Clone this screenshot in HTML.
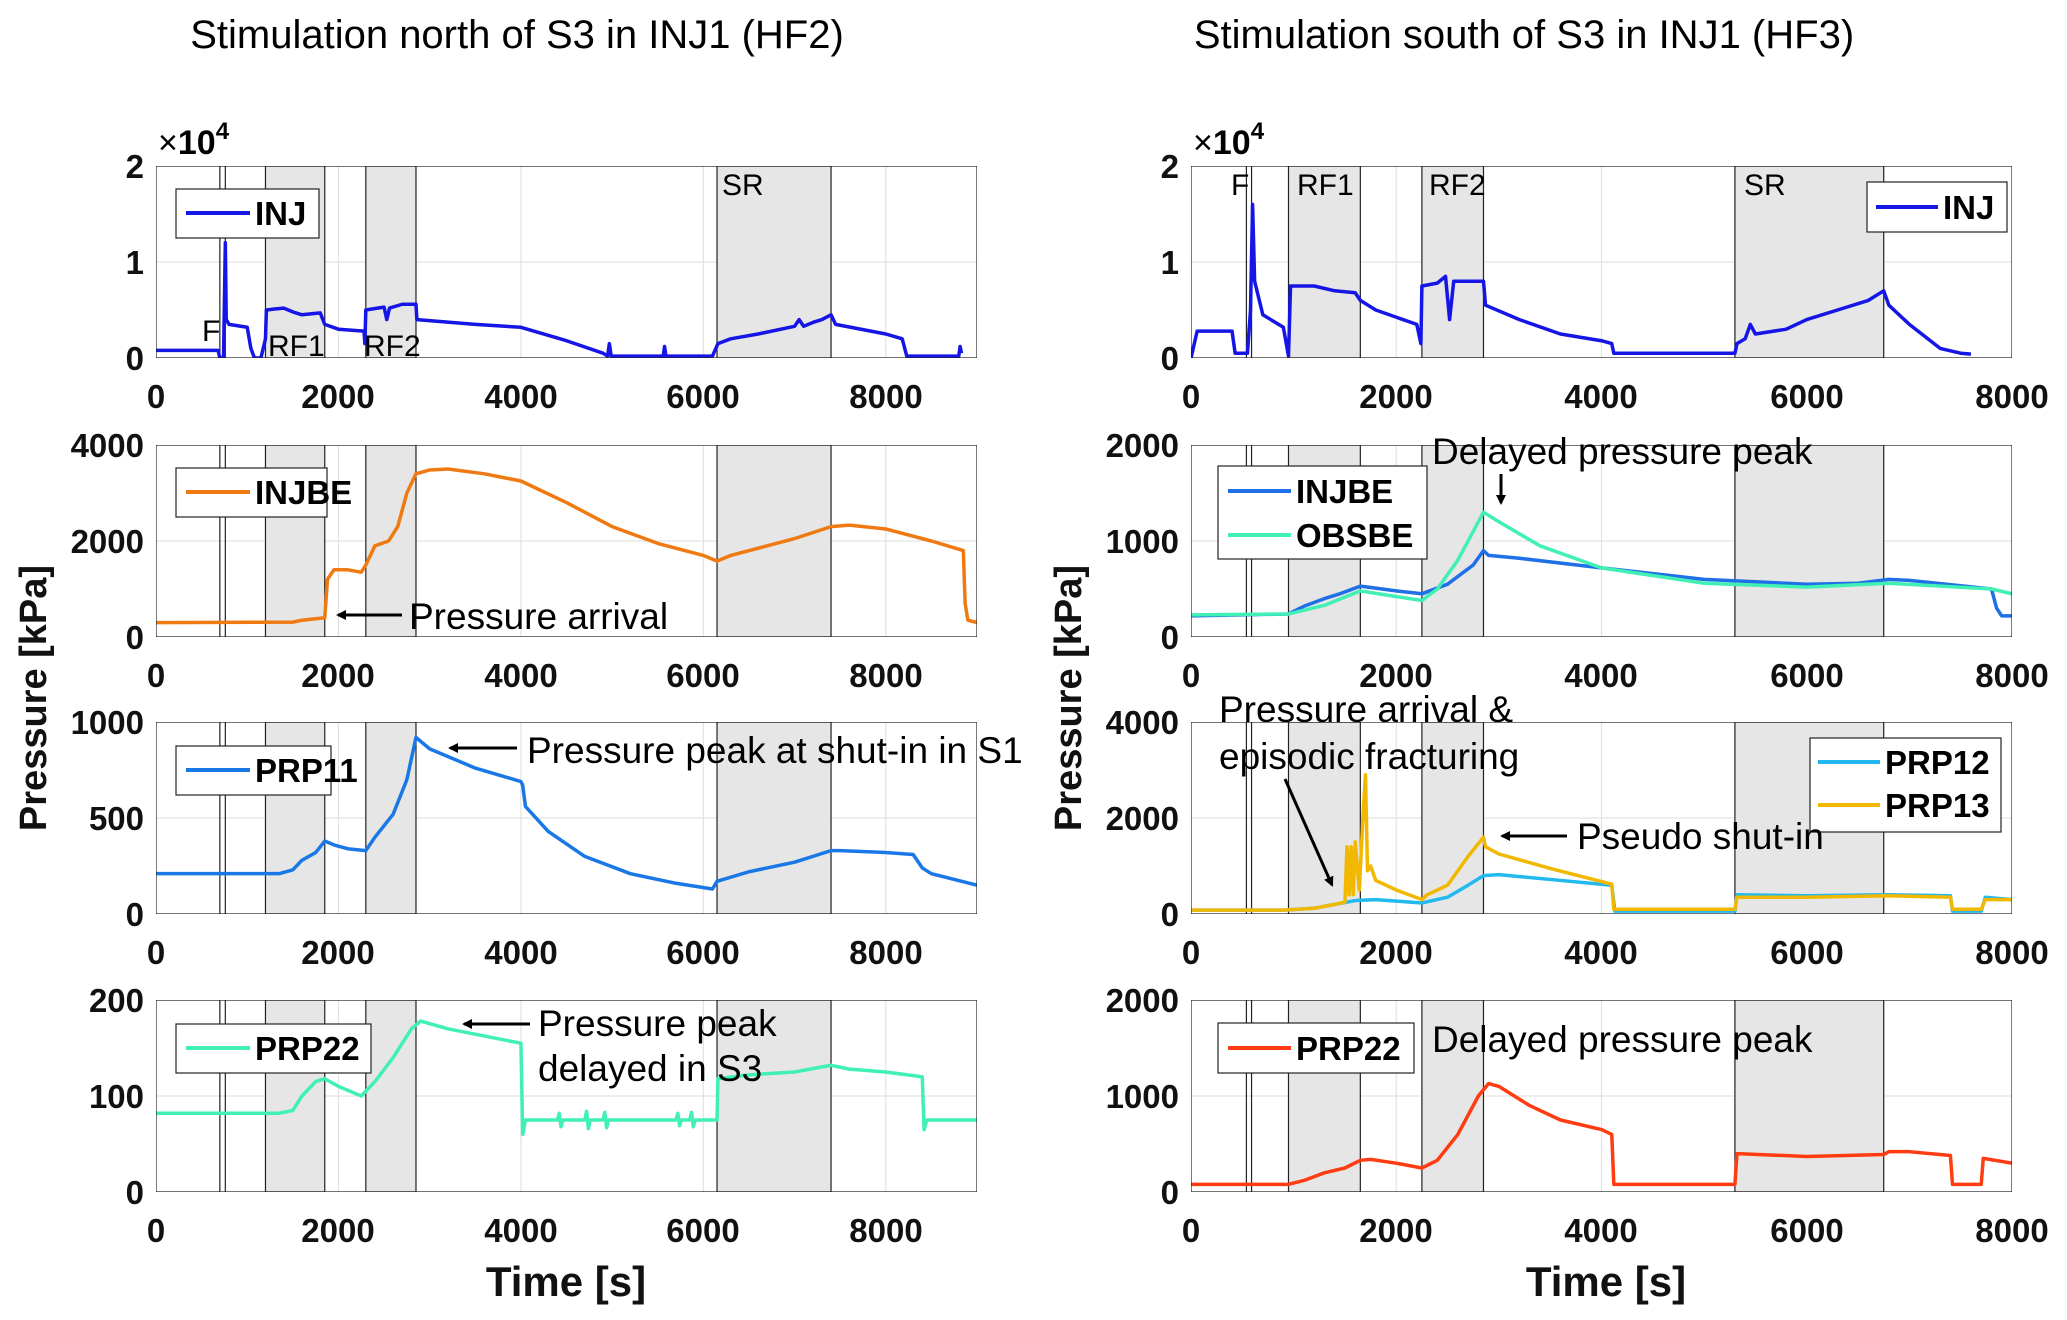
<!DOCTYPE html>
<html><head><meta charset="utf-8"><style>
body{margin:0;background:#fff}
svg{font-family:"Liberation Sans",sans-serif}
.t{font-weight:bold;font-size:33px;fill:#111}
.lg{font-weight:bold;font-size:33px;fill:#000}
.an{font-size:37px;fill:#000}
.ln{fill:none;stroke-width:3.5;vector-effect:non-scaling-stroke;stroke-linejoin:round}
.gr{stroke:#e3e3e3;stroke-width:1.2;vector-effect:non-scaling-stroke}
.bd{stroke:#222;stroke-width:1.2;vector-effect:non-scaling-stroke}
</style></head><body>
<svg width="2067" height="1315" viewBox="0 0 2067 1315" xmlns="http://www.w3.org/2000/svg">
<defs><marker id="ah" markerWidth="10" markerHeight="10" refX="8" refY="5" orient="auto" markerUnits="userSpaceOnUse"><path d="M0,0 L10,5 L0,10 z" fill="#000"/></marker></defs>
<text x="517" y="48" font-size="40" text-anchor="middle">Stimulation north of S3 in INJ1 (HF2)</text>
<text x="1524" y="48" font-size="40" text-anchor="middle">Stimulation south of S3 in INJ1 (HF3)</text>

<!-- L1 -->
<svg x="156" y="166" width="821" height="192" viewBox="0 0 9000 20000" preserveAspectRatio="none"><g transform="translate(0,20000) scale(1,-1)">
<line class="gr" x1="2000" y1="0" x2="2000" y2="20000"/><line class="gr" x1="4000" y1="0" x2="4000" y2="20000"/><line class="gr" x1="6000" y1="0" x2="6000" y2="20000"/><line class="gr" x1="8000" y1="0" x2="8000" y2="20000"/><line class="gr" x1="0" y1="10000" x2="9000" y2="10000"/>
<rect x="1200" y="0" width="650" height="20000" fill="#e6e6e6" class="bd"/><rect x="2300" y="0" width="550" height="20000" fill="#e6e6e6" class="bd"/><rect x="6150" y="0" width="1250" height="20000" fill="#e6e6e6" class="bd"/>
<line class="bd" x1="700" y1="0" x2="700" y2="20000"/><line class="bd" x1="760" y1="0" x2="760" y2="20000"/>
<polyline class="ln" stroke="#1515e6" points="0,800 680,800 700,0 740,0 760,12000 770,4000 800,3500 1000,3200 1040,1000 1080,0 1150,0 1200,2000 1210,5000 1300,5100 1400,5200 1500,4800 1600,4500 1800,4700 1850,3500 2000,3000 2280,2800 2290,1500 2300,5000 2500,5300 2530,4000 2560,5200 2700,5600 2850,5600 2860,4000 3500,3500 4000,3200 4500,1800 4900,500 4950,200 4970,1500 4990,200 5560,200 5575,1200 5590,200 6100,200 6160,1500 6300,2000 6600,2500 7000,3300 7050,4000 7100,3300 7200,3700 7300,4000 7400,4500 7450,3500 8000,2500 8180,2000 8230,200 8800,200 8815,1200 8830,500"/>
</g><rect x="0" y="0" width="9000" height="20000" fill="none" class="bd"/></svg>

<!-- R1 -->
<svg x="1191" y="166" width="821" height="192" viewBox="0 0 8000 20000" preserveAspectRatio="none"><g transform="translate(0,20000) scale(1,-1)">
<line class="gr" x1="2000" y1="0" x2="2000" y2="20000"/><line class="gr" x1="4000" y1="0" x2="4000" y2="20000"/><line class="gr" x1="6000" y1="0" x2="6000" y2="20000"/><line class="gr" x1="0" y1="10000" x2="8000" y2="10000"/>
<rect x="950" y="0" width="700" height="20000" fill="#e6e6e6" class="bd"/><rect x="2250" y="0" width="600" height="20000" fill="#e6e6e6" class="bd"/><rect x="5300" y="0" width="1450" height="20000" fill="#e6e6e6" class="bd"/>
<line class="bd" x1="540" y1="0" x2="540" y2="20000"/><line class="bd" x1="590" y1="0" x2="590" y2="20000"/>
<polyline class="ln" stroke="#1515e6" points="0,0 60,2800 400,2800 430,500 550,500 580,5000 600,16000 620,8000 700,4500 900,3200 950,200 970,7500 1200,7500 1400,7000 1600,6800 1650,6000 1800,5000 2200,3500 2240,1500 2250,7500 2400,7800 2480,8500 2520,4000 2560,8000 2850,8000 2870,5500 3200,4000 3600,2500 4000,1800 4100,1500 4120,500 5300,500 5320,1500 5400,2000 5450,3500 5500,2500 5800,3000 6000,4000 6300,5000 6600,6000 6750,7000 6800,5500 7000,3500 7300,1000 7500,500 7600,400"/>
</g><rect x="0" y="0" width="8000" height="20000" fill="none" class="bd"/></svg>

<!-- L2 -->
<svg x="156" y="445" width="821" height="192" viewBox="0 0 9000 4000" preserveAspectRatio="none"><g transform="translate(0,4000) scale(1,-1)">
<line class="gr" x1="2000" y1="0" x2="2000" y2="4000"/><line class="gr" x1="4000" y1="0" x2="4000" y2="4000"/><line class="gr" x1="6000" y1="0" x2="6000" y2="4000"/><line class="gr" x1="8000" y1="0" x2="8000" y2="4000"/><line class="gr" x1="0" y1="2000" x2="9000" y2="2000"/>
<rect x="1200" y="0" width="650" height="4000" fill="#e6e6e6" class="bd"/><rect x="2300" y="0" width="550" height="4000" fill="#e6e6e6" class="bd"/><rect x="6150" y="0" width="1250" height="4000" fill="#e6e6e6" class="bd"/>
<line class="bd" x1="700" y1="0" x2="700" y2="4000"/><line class="bd" x1="760" y1="0" x2="760" y2="4000"/>
<polyline class="ln" stroke="#f07a12" points="0,300 1500,310 1600,350 1850,400 1880,1200 1950,1400 2100,1400 2250,1350 2300,1500 2400,1900 2550,2000 2650,2300 2750,3000 2850,3400 3000,3480 3200,3500 3600,3400 4000,3250 4500,2800 5000,2300 5500,1950 6000,1700 6150,1580 6300,1700 7000,2050 7400,2300 7600,2330 8000,2250 8500,2000 8850,1800 8870,700 8900,350 9000,300"/>
</g><rect x="0" y="0" width="9000" height="4000" fill="none" class="bd"/></svg>

<!-- R2 -->
<svg x="1191" y="445" width="821" height="192" viewBox="0 0 8000 2000" preserveAspectRatio="none"><g transform="translate(0,2000) scale(1,-1)">
<line class="gr" x1="2000" y1="0" x2="2000" y2="2000"/><line class="gr" x1="4000" y1="0" x2="4000" y2="2000"/><line class="gr" x1="6000" y1="0" x2="6000" y2="2000"/><line class="gr" x1="0" y1="1000" x2="8000" y2="1000"/>
<rect x="950" y="0" width="700" height="2000" fill="#e6e6e6" class="bd"/><rect x="2250" y="0" width="600" height="2000" fill="#e6e6e6" class="bd"/><rect x="5300" y="0" width="1450" height="2000" fill="#e6e6e6" class="bd"/>
<line class="bd" x1="540" y1="0" x2="540" y2="2000"/><line class="bd" x1="590" y1="0" x2="590" y2="2000"/>
<polyline class="ln" stroke="#1f6fe6" points="0,220 950,240 1100,320 1300,400 1450,450 1650,530 2000,480 2250,450 2500,550 2750,750 2850,900 2900,850 3200,820 4000,720 5000,600 6000,550 6500,560 6800,600 7000,590 7800,500 7850,300 7900,220 8000,220"/>
<polyline class="ln" stroke="#40f0b4" points="0,230 950,240 1300,330 1650,480 2250,380 2400,500 2600,800 2750,1100 2850,1300 3000,1200 3400,950 4000,720 5000,560 6000,520 6800,560 7800,500 8000,450"/>
</g><rect x="0" y="0" width="8000" height="2000" fill="none" class="bd"/></svg>

<!-- L3 -->
<svg x="156" y="722" width="821" height="192" viewBox="0 0 9000 1000" preserveAspectRatio="none"><g transform="translate(0,1000) scale(1,-1)">
<line class="gr" x1="2000" y1="0" x2="2000" y2="1000"/><line class="gr" x1="4000" y1="0" x2="4000" y2="1000"/><line class="gr" x1="6000" y1="0" x2="6000" y2="1000"/><line class="gr" x1="8000" y1="0" x2="8000" y2="1000"/><line class="gr" x1="0" y1="500" x2="9000" y2="500"/>
<rect x="1200" y="0" width="650" height="1000" fill="#e6e6e6" class="bd"/><rect x="2300" y="0" width="550" height="1000" fill="#e6e6e6" class="bd"/><rect x="6150" y="0" width="1250" height="1000" fill="#e6e6e6" class="bd"/>
<line class="bd" x1="700" y1="0" x2="700" y2="1000"/><line class="bd" x1="760" y1="0" x2="760" y2="1000"/>
<polyline class="ln" stroke="#1a78e6" points="0,210 1350,210 1500,230 1600,280 1750,320 1850,380 1950,360 2100,340 2300,330 2400,400 2600,520 2750,700 2850,920 3000,860 3500,760 4000,690 4020,670 4050,560 4300,430 4700,300 5200,210 5700,160 6100,130 6150,170 6500,220 7000,270 7400,330 7500,330 8000,320 8300,310 8400,240 8500,210 9000,150"/>
</g><rect x="0" y="0" width="9000" height="1000" fill="none" class="bd"/></svg>

<!-- R3 -->
<svg x="1191" y="722" width="821" height="192" viewBox="0 0 8000 4000" preserveAspectRatio="none"><g transform="translate(0,4000) scale(1,-1)">
<line class="gr" x1="2000" y1="0" x2="2000" y2="4000"/><line class="gr" x1="4000" y1="0" x2="4000" y2="4000"/><line class="gr" x1="6000" y1="0" x2="6000" y2="4000"/><line class="gr" x1="0" y1="2000" x2="8000" y2="2000"/>
<rect x="950" y="0" width="700" height="4000" fill="#e6e6e6" class="bd"/><rect x="2250" y="0" width="600" height="4000" fill="#e6e6e6" class="bd"/><rect x="5300" y="0" width="1450" height="4000" fill="#e6e6e6" class="bd"/>
<line class="bd" x1="540" y1="0" x2="540" y2="4000"/><line class="bd" x1="590" y1="0" x2="590" y2="4000"/>
<polyline class="ln" stroke="#22b8f0" points="0,80 900,80 1200,120 1400,200 1600,280 1800,300 2250,230 2500,350 2700,600 2850,800 3000,820 3500,720 4100,600 4130,60 5300,60 5320,400 6000,380 6800,400 7400,380 7420,60 7700,60 7740,350 8000,300"/>
<polyline class="ln" stroke="#f2b800" points="0,80 900,80 1200,120 1400,200 1500,250 1520,1400 1540,400 1560,1400 1580,400 1600,1500 1640,500 1680,2200 1700,2900 1720,900 1750,1000 1800,700 2000,500 2250,300 2300,400 2500,600 2700,1200 2850,1600 2870,1400 3000,1250 3500,950 4100,620 4120,100 5300,100 5320,350 6000,350 6800,380 7400,350 7420,100 7700,100 7740,300 8000,300"/>
</g><rect x="0" y="0" width="8000" height="4000" fill="none" class="bd"/></svg>

<!-- L4 -->
<svg x="156" y="1000" width="821" height="192" viewBox="0 0 9000 200" preserveAspectRatio="none"><g transform="translate(0,200) scale(1,-1)">
<line class="gr" x1="2000" y1="0" x2="2000" y2="200"/><line class="gr" x1="4000" y1="0" x2="4000" y2="200"/><line class="gr" x1="6000" y1="0" x2="6000" y2="200"/><line class="gr" x1="8000" y1="0" x2="8000" y2="200"/><line class="gr" x1="0" y1="100" x2="9000" y2="100"/>
<rect x="1200" y="0" width="650" height="200" fill="#e6e6e6" class="bd"/><rect x="2300" y="0" width="550" height="200" fill="#e6e6e6" class="bd"/><rect x="6150" y="0" width="1250" height="200" fill="#e6e6e6" class="bd"/>
<line class="bd" x1="700" y1="0" x2="700" y2="200"/><line class="bd" x1="760" y1="0" x2="760" y2="200"/>
<polyline class="ln" stroke="#40f0b8" points="0,82 1350,82 1500,85 1600,100 1750,115 1850,118 2000,110 2250,100 2400,115 2600,140 2800,170 2900,178 3200,170 4000,155 4020,60 4050,75 4400,75 4420,82 4440,68 4460,75 4700,75 4720,84 4740,66 4760,75 4900,75 4920,83 4940,67 4960,75 5700,75 5720,82 5740,69 5760,75 5850,75 5870,83 5890,68 5910,75 6150,75 6160,118 6500,122 7000,125 7400,132 7600,128 8000,125 8400,120 8420,65 8450,75 9000,75"/>
</g><rect x="0" y="0" width="9000" height="200" fill="none" class="bd"/></svg>

<!-- R4 -->
<svg x="1191" y="1000" width="821" height="192" viewBox="0 0 8000 2000" preserveAspectRatio="none"><g transform="translate(0,2000) scale(1,-1)">
<line class="gr" x1="2000" y1="0" x2="2000" y2="2000"/><line class="gr" x1="4000" y1="0" x2="4000" y2="2000"/><line class="gr" x1="6000" y1="0" x2="6000" y2="2000"/><line class="gr" x1="0" y1="1000" x2="8000" y2="1000"/>
<rect x="950" y="0" width="700" height="2000" fill="#e6e6e6" class="bd"/><rect x="2250" y="0" width="600" height="2000" fill="#e6e6e6" class="bd"/><rect x="5300" y="0" width="1450" height="2000" fill="#e6e6e6" class="bd"/>
<line class="bd" x1="540" y1="0" x2="540" y2="2000"/><line class="bd" x1="590" y1="0" x2="590" y2="2000"/>
<polyline class="ln" stroke="#ff3c12" points="0,80 950,80 1100,120 1300,200 1500,250 1650,330 1750,340 2000,300 2250,250 2400,330 2600,600 2800,1000 2900,1130 3000,1100 3300,900 3600,750 4000,650 4100,600 4120,80 5300,80 5320,400 6000,370 6750,390 6800,420 7000,420 7400,380 7420,80 7700,80 7720,350 8000,300"/>
</g><rect x="0" y="0" width="8000" height="2000" fill="none" class="bd"/></svg>

<!-- tick labels -->
<g class="t" text-anchor="middle">
<text x="156" y="408">0</text><text x="338" y="408">2000</text><text x="521" y="408">4000</text><text x="703" y="408">6000</text><text x="886" y="408">8000</text>
<text x="156" y="687">0</text><text x="338" y="687">2000</text><text x="521" y="687">4000</text><text x="703" y="687">6000</text><text x="886" y="687">8000</text>
<text x="156" y="964">0</text><text x="338" y="964">2000</text><text x="521" y="964">4000</text><text x="703" y="964">6000</text><text x="886" y="964">8000</text>
<text x="156" y="1242">0</text><text x="338" y="1242">2000</text><text x="521" y="1242">4000</text><text x="703" y="1242">6000</text><text x="886" y="1242">8000</text>
<text x="1191" y="408">0</text><text x="1396" y="408">2000</text><text x="1601" y="408">4000</text><text x="1807" y="408">6000</text><text x="2012" y="408">8000</text>
<text x="1191" y="687">0</text><text x="1396" y="687">2000</text><text x="1601" y="687">4000</text><text x="1807" y="687">6000</text><text x="2012" y="687">8000</text>
<text x="1191" y="964">0</text><text x="1396" y="964">2000</text><text x="1601" y="964">4000</text><text x="1807" y="964">6000</text><text x="2012" y="964">8000</text>
<text x="1191" y="1242">0</text><text x="1396" y="1242">2000</text><text x="1601" y="1242">4000</text><text x="1807" y="1242">6000</text><text x="2012" y="1242">8000</text>
</g>
<g class="t" text-anchor="end">
<text x="144" y="178">2</text><text x="144" y="274">1</text><text x="144" y="370">0</text>
<text x="144" y="457">4000</text><text x="144" y="553">2000</text><text x="144" y="649">0</text>
<text x="144" y="734">1000</text><text x="144" y="830">500</text><text x="144" y="926">0</text>
<text x="144" y="1012">200</text><text x="144" y="1108">100</text><text x="144" y="1204">0</text>
<text x="1179" y="178">2</text><text x="1179" y="274">1</text><text x="1179" y="370">0</text>
<text x="1179" y="457">2000</text><text x="1179" y="553">1000</text><text x="1179" y="649">0</text>
<text x="1179" y="734">4000</text><text x="1179" y="830">2000</text><text x="1179" y="926">0</text>
<text x="1179" y="1012">2000</text><text x="1179" y="1108">1000</text><text x="1179" y="1204">0</text>
</g>
<text x="158" y="154" font-size="34">×<tspan font-weight="bold">10</tspan><tspan font-weight="bold" font-size="24" dy="-15">4</tspan></text>
<text x="1193" y="154" font-size="34">×<tspan font-weight="bold">10</tspan><tspan font-weight="bold" font-size="24" dy="-15">4</tspan></text>
<text class="t" transform="translate(46,698) rotate(-90)" text-anchor="middle" style="font-size:38px">Pressure [kPa]</text>
<text class="t" transform="translate(1081,698) rotate(-90)" text-anchor="middle" style="font-size:38px">Pressure [kPa]</text>
<text class="t" x="566" y="1296" text-anchor="middle" style="font-size:42px">Time [s]</text>
<text class="t" x="1606" y="1296" text-anchor="middle" style="font-size:42px">Time [s]</text>

<!-- legends -->
<g stroke="#222" stroke-width="1.2" fill="#fff">
<rect x="176" y="189" width="143" height="49"/><rect x="176" y="468" width="151" height="49"/><rect x="176" y="746" width="155" height="49"/><rect x="176" y="1024" width="195" height="49"/>
<rect x="1867" y="182" width="140" height="50"/><rect x="1218" y="466" width="209" height="93"/><rect x="1810" y="738" width="191" height="94"/><rect x="1218" y="1023" width="196" height="50"/>
</g>
<g stroke-width="4">
<line x1="186" y1="213" x2="250" y2="213" stroke="#1515e6"/><line x1="186" y1="492" x2="250" y2="492" stroke="#f07a12"/><line x1="186" y1="770" x2="250" y2="770" stroke="#1a78e6"/><line x1="186" y1="1048" x2="250" y2="1048" stroke="#40f0b8"/>
<line x1="1876" y1="207" x2="1938" y2="207" stroke="#1515e6"/><line x1="1228" y1="491" x2="1291" y2="491" stroke="#1f6fe6"/><line x1="1228" y1="535" x2="1291" y2="535" stroke="#40f0b4"/>
<line x1="1818" y1="762" x2="1880" y2="762" stroke="#22b8f0"/><line x1="1818" y1="805" x2="1880" y2="805" stroke="#f2b800"/><line x1="1228" y1="1048" x2="1291" y2="1048" stroke="#ff3c12"/>
</g>
<g class="lg">
<text x="255" y="225">INJ</text><text x="255" y="504">INJBE</text><text x="255" y="782">PRP11</text><text x="255" y="1060">PRP22</text>
<text x="1943" y="219">INJ</text><text x="1296" y="503">INJBE</text><text x="1296" y="547">OBSBE</text>
<text x="1885" y="774">PRP12</text><text x="1885" y="817">PRP13</text><text x="1296" y="1060">PRP22</text>
</g>

<!-- annotations -->
<g font-size="30" fill="#000">
<text x="202" y="341">F</text><text x="268" y="356">RF1</text><text x="364" y="356">RF2</text><text x="722" y="195">SR</text>
<text x="1231" y="195">F</text><text x="1297" y="195">RF1</text><text x="1429" y="195">RF2</text><text x="1744" y="195">SR</text>
</g>
<g class="an">
<text x="409" y="629">Pressure arrival</text>
<text x="527" y="763">Pressure peak at shut-in in S1</text>
<text x="538" y="1036">Pressure peak</text><text x="538" y="1081">delayed in S3</text>
<text x="1432" y="464">Delayed pressure peak</text>
<text x="1219" y="722">Pressure arrival &amp;</text><text x="1219" y="769">episodic fracturing</text>
<text x="1577" y="849">Pseudo shut-in</text>
<text x="1432" y="1052">Delayed pressure peak</text>
</g>
<g stroke="#000" stroke-width="3" marker-end="url(#ah)">
<line x1="402" y1="615" x2="338" y2="615"/>
<line x1="517" y1="748" x2="450" y2="748"/>
<line x1="530" y1="1024" x2="464" y2="1024"/>
<line x1="1501" y1="474" x2="1501" y2="503"/>
<line x1="1285" y1="779" x2="1332" y2="885"/>
<line x1="1567" y1="836" x2="1502" y2="836"/>
</g>
</svg>
</body></html>
